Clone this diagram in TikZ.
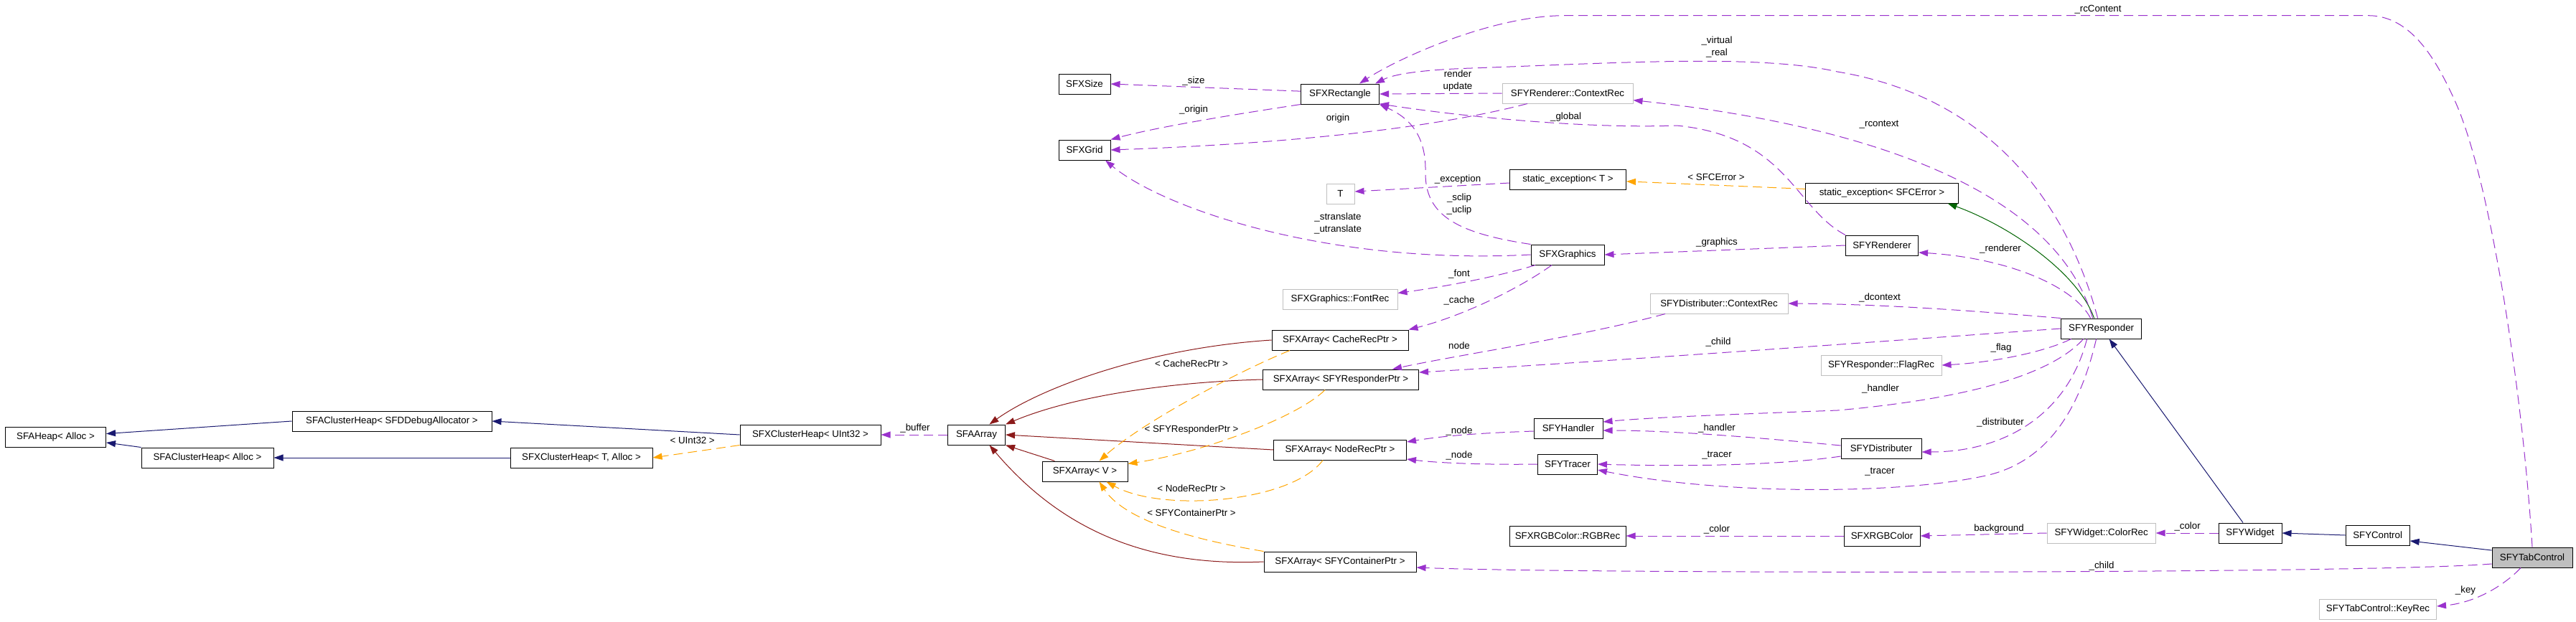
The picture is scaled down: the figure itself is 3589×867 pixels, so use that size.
\documentclass[tikz,border=0pt]{standalone}
\usepackage{fontspec}
\setmainfont{Liberation Sans}
\usepackage{tikz}
\usetikzlibrary{arrows.meta}
\definecolor{Usage}{HTML}{9A32CD}
\definecolor{Inherit}{HTML}{191970}
\definecolor{Private}{HTML}{8B1A1A}
\definecolor{Protected}{HTML}{006400}
\definecolor{Templ}{HTML}{FFA500}
\definecolor{Ext}{HTML}{BFBFBF}

\begin{document}
\begin{tikzpicture}[
    x=1pt, y=-1pt,
    font=\fontsize{13.3pt}{17pt}\selectfont,
    cls/.style={draw=black, line width=1pt, minimum height=28pt, inner xsep=0pt, inner ysep=0pt},
    ext/.style={cls, draw=Ext},
    focus/.style={cls, fill=Ext},
    lbl/.style={inner sep=0pt, align=center, text=black},
    pub/.style={-{Triangle[length=13pt,width=9pt]}, line width=1pt, draw=Inherit},
    prot/.style={pub, draw=Protected},
    priv/.style={pub, draw=Private},
    usage/.style={pub, draw=Usage, dash pattern=on 13pt off 7pt},
    tmpl/.style={usage, draw=Templ}
  ]
    \path[use as bounding box, fill=white] (0,0) rectangle (3589,867);

    \node[cls, minimum width=140pt] (heap) at (77.5,609.5) {SFAHeap< Alloc >};
    \node[cls, minimum width=278pt] (heapdbg) at (546,587) {SFAClusterHeap< SFDDebugAllocator >};
    \node[cls, minimum width=184pt] (heapalloc) at (289,638) {SFAClusterHeap< Alloc >};
    \node[cls, minimum width=198pt] (xheapT) at (810,638) {SFXClusterHeap< T, Alloc >};
    \node[cls, minimum width=196pt] (xheapU) at (1129,606) {SFXClusterHeap< UInt32 >};
    \node[cls, minimum width=80pt] (aarray) at (1360.5,606) {SFAArray};
    \node[cls, minimum width=119pt] (arrV) at (1511.5,657) {SFXArray< V >};
    \node[cls, minimum width=72pt] (size) at (1511,117) {SFXSize};
    \node[cls, minimum width=72pt] (grid) at (1511,209) {SFXGrid};
    \node[cls, minimum width=109pt] (rect) at (1867,131) {SFXRectangle};
    \node[ext, minimum width=39pt] (tmplT) at (1867.5,270) {T};
    \node[ext, minimum width=160pt] (fontrec) at (1867,417) {SFXGraphics::FontRec};
    \node[cls, minimum width=190pt] (arrCache) at (1867,474) {SFXArray< CacheRecPtr >};
    \node[cls, minimum width=217pt] (arrResp) at (1868,529) {SFXArray< SFYResponderPtr >};
    \node[cls, minimum width=185pt] (arrNode) at (1867,627) {SFXArray< NodeRecPtr >};
    \node[cls, minimum width=212pt] (arrCont) at (1867,783) {SFXArray< SFYContainerPtr >};
    \node[ext, minimum width=182pt] (rctx) at (2184,130) {SFYRenderer::ContextRec};
    \node[cls, minimum width=162pt] (sexcT) at (2184.5,250) {static\_exception< T >};
    \node[cls, minimum width=102pt] (graphics) at (2184,355) {SFXGraphics};
    \node[cls, minimum width=96pt] (handler) at (2185,597) {SFYHandler};
    \node[cls, minimum width=83pt] (tracer) at (2184,647) {SFYTracer};
    \node[cls, minimum width=162pt] (rgbrec) at (2184,747) {SFXRGBColor::RGBRec};
    \node[ext, minimum width=192pt] (dctx) at (2395,423) {SFYDistributer::ContextRec};
    \node[cls, minimum width=213pt] (sexcE) at (2622,269) {static\_exception< SFCError >};
    \node[cls, minimum width=101pt] (renderer) at (2622,342) {SFYRenderer};
    \node[ext, minimum width=168pt] (flag) at (2621,509) {SFYResponder::FlagRec};
    \node[cls, minimum width=112pt] (distr) at (2621,625) {SFYDistributer};
    \node[cls, minimum width=106pt] (rgb) at (2622,747) {SFXRGBColor};
    \node[cls, minimum width=112pt] (responder) at (2927.6,458) {SFYResponder};
    \node[ext, minimum width=151pt] (colorrec) at (2927.6,743) {SFYWidget::ColorRec};
    \node[cls, minimum width=88pt] (widget) at (3135,743) {SFYWidget};
    \node[cls, minimum width=89pt] (control) at (3312.6,746) {SFYControl};
    \node[focus, minimum width=112pt] (tab) at (3528,777) {SFYTabControl};
    \node[ext, minimum width=163pt] (keyrec) at (3313,849) {SFYTabControl::KeyRec};

    \draw[pub] (heapdbg.west) -- (heap.4);
    \draw[pub] (heapalloc.north west) -- (heap.-6);
    \draw[pub] (xheapU.west) -- (heapdbg.east);
    \draw[pub] (xheapT.west) -- (heapalloc.east);
    \draw[pub] ([xshift=-10pt]widget.north) -- ([xshift=11pt]responder.south);
    \draw[pub] (control.west) -- (widget.east);
    \draw[pub] (tab.170) -- (control.-10);
    \draw[prot] ([xshift=-10pt]responder.north) .. controls (2895,380) and (2800,315) .. (sexcE.-9);

    \draw[priv] (arrCache.west) .. controls (1600,485) and (1450,540) .. (aarray.39);
    \draw[priv] (arrResp.west) .. controls (1640,532) and (1500,550) .. (aarray.north east);
    \draw[priv] (arrNode.west) -- (aarray.east);
    \draw[priv] (arrV.161) -- (aarray.south east);
    \draw[priv] (arrCont.west) .. controls (1600,790) and (1480,740) .. ([xshift=18pt]aarray.south);

    \draw[tmpl] (xheapU.south west) -- (xheapT.east) node[lbl] at (964.7,614) {< UInt32 >};
    \draw[tmpl] (sexcE.177) -- (sexcT.-2) node[lbl] at (2391,246.7) {< SFCError >};
    \draw[tmpl] ([xshift=-70pt]arrCache.south) .. controls (1720,520) and (1590,590) .. ([xshift=20pt]arrV.north) node[lbl] at (1660,506.7) {< CacheRecPtr >};
    \draw[tmpl] ([xshift=-22pt]arrResp.south) .. controls (1810,580) and (1680,630) .. (arrV.10) node[lbl] at (1660,599) {< SFYResponderPtr >};
    \draw[tmpl] ([xshift=-24pt]arrNode.south) .. controls (1800,700) and (1620,715) .. ([xshift=30pt]arrV.south) node[lbl] at (1660,681) {< NodeRecPtr >};
    \draw[tmpl] (arrCont.north west) .. controls (1680,755) and (1570,730) .. ([xshift=20pt]arrV.south) node[lbl] at (1660,715) {< SFYContainerPtr >};

    \draw[usage] (aarray.west) -- (xheapU.east) node[lbl] at (1275,597) {\_buffer};
    \draw[usage] (rect.176) -- (size.east) node[lbl] at (1663,112.7) {\_size};
    \draw[usage] (rect.south west) .. controls (1750,155) and (1620,175) .. (grid.north east) node[lbl] at (1663,153) {\_origin};
    \draw[usage] ([xshift=-56pt]rctx.south) .. controls (2000,178) and (1800,200) .. (grid.east) node[lbl] at (1864,164.7) {origin};
    \draw[usage] (graphics.west) .. controls (1850,370) and (1620,290) .. ([xshift=29pt]grid.south) node[lbl] at (1864,311) {\_stranslate\\\_utranslate};
    \draw[usage] (rctx.west) -- (rect.east) node[lbl] at (2031,112.3) {render\\update};
    \draw[usage] ([xshift=-5pt]responder.north) .. controls (2890,320) and (2800,140) .. (2560,100) .. controls (2450,75) and (2250,88) .. (2050,95) .. controls (1990,97) and (1945,102) .. ([xshift=-6pt]rect.north east) node[lbl] at (2392,65.7) {\_virtual\\\_real};
    \draw[usage] ([xshift=-12pt]responder.north) .. controls (2860,250) and (2560,170) .. (rctx.-6) node[lbl] at (2618,173.7) {\_rcontext};
    \draw[usage] ([xshift=-15pt]responder.north) .. controls (2890,400) and (2800,360) .. (renderer.-11) node[lbl] at (2787,346.7) {\_renderer};
    \draw[usage] (renderer.west) -- (graphics.east) node[lbl] at (2392,337.7) {\_graphics};
    \draw[usage] (renderer.north west) .. controls (2500,290) and (2490,190) .. (2336,175) .. controls (2200,180) and (2020,160) .. (rect.-14) node[lbl] at (2181.6,162.7) {\_global};
    \draw[usage] (graphics.north west) .. controls (2030,325) and (1985,300) .. (1986,240) .. controls (1987,190) and (1965,165) .. (rect.south east) node[lbl] at (2033,284.2) {\_sclip\\\_uclip};
    \draw[usage] ([yshift=-5pt]sexcT.west) -- ([yshift=3pt]tmplT.east) node[lbl] at (2031,250) {\_exception};
    \draw[usage] ([xshift=-45pt]graphics.south) .. controls (2090,385) and (2010,400) .. (fontrec.6) node[lbl] at (2033,381.7) {\_font};
    \draw[usage] ([xshift=-22pt]graphics.south) .. controls (2120,400) and (2040,440) .. (arrCache.north east) node[lbl] at (2033,418.7) {\_cache};
    \draw[usage] ([xshift=-75pt]dctx.south) .. controls (2200,470) and (2030,495) .. ([xshift=72pt]arrResp.north) node[lbl] at (2033,481.7) {node};
    \draw[usage] (responder.west) .. controls (2700,470) and (2300,500) .. ([yshift=10pt]arrResp.east) node[lbl] at (2394,477) {\_child};
    \draw[usage] (responder.north west) .. controls (2780,436) and (2640,424) .. (dctx.east) node[lbl] at (2619,414.7) {\_dcontext};
    \draw[usage] ([xshift=-42pt]responder.south) .. controls (2850,490) and (2780,505) .. (flag.east) node[lbl] at (2788,484.7) {\_flag};
    \draw[usage] ([xshift=-25pt]responder.south) .. controls (2860,520) and (2750,555) .. (2560,572) .. controls (2400,578) and (2300,582) .. ([yshift=9pt]handler.east) node[lbl] at (2620,541.7) {\_handler};
    \draw[usage] ([yshift=4pt]distr.west) .. controls (2450,610) and (2330,600) .. ([yshift=-3pt]handler.east) node[lbl] at (2392,596.7) {\_handler};
    \draw[usage] ([yshift=-11pt]distr.west) .. controls (2470,650) and (2330,650) .. (tracer.east) node[lbl] at (2392,635) {\_tracer};
    \draw[usage] ([xshift=-7pt]responder.south) .. controls (2900,560) and (2860,640) .. (2771,662) .. controls (2650,690) and (2400,690) .. ([yshift=-8pt]tracer.east) node[lbl] at (2619,658) {\_tracer};
    \draw[usage] ([xshift=-20pt]responder.south) .. controls (2880,580) and (2790,630) .. ([yshift=-5pt]distr.east) node[lbl] at (2787,589.3) {\_distributer};
    \draw[usage] ([yshift=-4pt]handler.west) .. controls (2080,603) and (2020,606) .. ([yshift=11pt]arrNode.east) node[lbl] at (2033,600.7) {\_node};
    \draw[usage] (tracer.west) .. controls (2080,648) and (2010,646) .. ([yshift=-13pt]arrNode.east) node[lbl] at (2033,635) {\_node};
    \draw[usage] ([yshift=-9pt]tab.west) .. controls (3300,800) and (2200,800) .. ([yshift=-8pt]arrCont.east) node[lbl] at (2928,788.7) {\_child};
    \draw[usage] ([xshift=-16pt]tab.south) .. controls (3490,815) and (3450,840) .. ([yshift=4pt]keyrec.east) node[lbl] at (3435,823.3) {\_key};
    \draw[usage] (tab.north) .. controls (3515,550) and (3470,250) .. (3420,140) .. controls (3395,85) and (3360,22) .. (3300,21.7) -- (2180,21.7) .. controls (2080,21.7) and (1950,80) .. ([xshift=27pt]rect.north) node[lbl] at (2923,12.7) {\_rcContent};
    \draw[usage] (widget.west) -- (colorrec.east) node[lbl] at (3047.6,734) {\_color};
    \draw[usage] (colorrec.west) -- (rgb.east) node[lbl] at (2785,736.7) {background};
    \draw[usage] (rgb.west) -- (rgbrec.east) node[lbl] at (2392,738) {\_color};
  \end{tikzpicture}
\end{document}
